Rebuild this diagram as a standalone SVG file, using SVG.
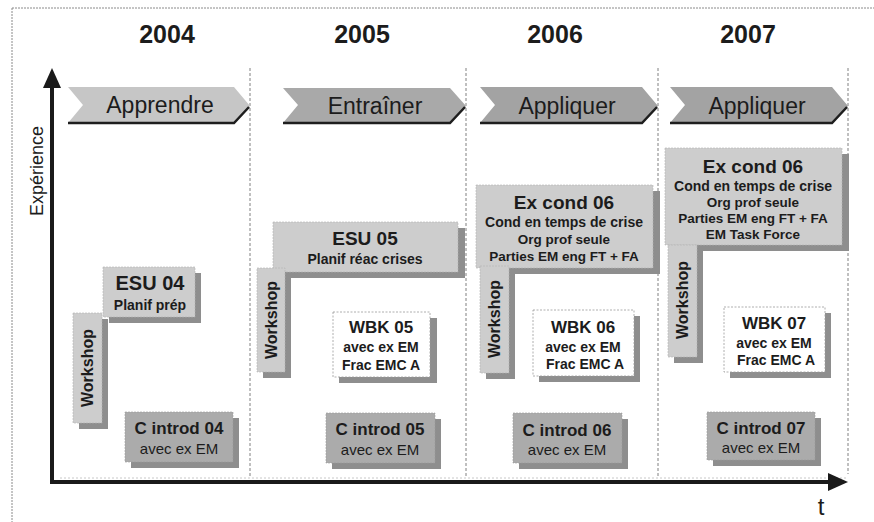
<svg xmlns="http://www.w3.org/2000/svg" width="874" height="522" viewBox="0 0 874 522">
<style>
text{font-family:"Liberation Sans",Arial,sans-serif;fill:#1c1c1c;text-anchor:middle}
.yr{font-size:25px;font-weight:bold}
.ph{font-size:23px}
.b{font-weight:bold}
.t19{font-size:19px;font-weight:bold}
.t17{font-size:17px;font-weight:bold}
.t14{font-size:14px;font-weight:bold}
.t13{font-size:13.5px;font-weight:bold}
.n15{font-size:15px}
.ws{font-size:16px;font-weight:bold}
.sh{fill:#8e8e8e}
.lt{fill:#cdcdcd;stroke:#b4b4b4;stroke-width:0.6;stroke-dasharray:2 1}
.dk{fill:#ababab;stroke:#9a9a9a;stroke-width:0.6;stroke-dasharray:2 1}
.wh{fill:#ffffff;stroke:#9a9a9a;stroke-width:0.8;stroke-dasharray:2 1.5}
.div{stroke:#808080;stroke-width:1;stroke-dasharray:3 2;fill:none}
.edge{stroke:#1e1e1e;stroke-width:2.5;fill:none}
.axis{stroke:#1a1a1a;stroke-width:4;fill:none}
</style>
<rect x="0" y="0" width="874" height="522" fill="#ffffff"/>
<path d="M12,8 H874 M12,8 V522" stroke="#8a8a8a" stroke-width="1" stroke-dasharray="2 1" fill="none"/>
<g id="dividers">
<line class="div" x1="250" y1="68" x2="250" y2="478"/>
<line class="div" x1="466" y1="68" x2="466" y2="478"/>
<line class="div" x1="658" y1="68" x2="658" y2="478"/>
<line class="div" x1="848" y1="68" x2="848" y2="474"/>
<line x1="60" y1="478" x2="848" y2="478" stroke="#c8c8c8" stroke-width="1" stroke-dasharray="2 2"/>
</g>
<g id="years">
<text class="yr" x="167" y="43">2004</text>
<text class="yr" x="362" y="43">2005</text>
<text class="yr" x="555" y="43">2006</text>
<text class="yr" x="748" y="43">2007</text>
</g>
<g id="phase-apprendre">
<polygon points="68,87 234,87 250,106 234,123 68,123 83,105" fill="#c6c6c6"/>
<polyline class="edge" points="68,123 234,123 249,107"/>
<text class="ph" x="160" y="113">Apprendre</text>
</g>
<g id="phase-entrainer">
<polygon points="283,88 450,88 466,106 450,123 283,123 298,105" fill="#a9a9a9"/>
<polyline class="edge" points="283,123 450,123 465,107"/>
<text class="ph" x="375" y="114">Entraîner</text>
</g>
<g id="phase-appliquer-2006">
<polygon points="480,87 642,87 658,106 642,123 480,123 495,105" fill="#a3a3a3"/>
<polyline class="edge" points="480,123 642,123 657,107"/>
<text class="ph" x="567" y="114">Appliquer</text>
</g>
<g id="phase-appliquer-2007">
<polygon points="670,87 832,87 848,106 832,123 670,123 685,105" fill="#a3a3a3"/>
<polyline class="edge" points="670,123 832,123 847,107"/>
<text class="ph" x="757" y="114">Appliquer</text>
</g>
<g id="connectors">
<line class="axis" x1="52" y1="482" x2="52" y2="86"/>
<polygon points="52,68 43,88 61,88" fill="#1a1a1a"/>
<line class="axis" x1="50" y1="482" x2="832" y2="482"/>
<polygon points="848,482 828,473 828,491" fill="#1a1a1a"/>
</g>
<text x="43" y="171" font-size="18" transform="rotate(-90 43 171)">Expérience</text>
<text x="821" y="515" font-size="24">t</text>
<!-- 2004 -->
<g id="esu04">
<rect class="sh" x="109" y="273" width="92" height="50"/>
<rect class="lt" x="103" y="267" width="92" height="50"/>
<text class="b" font-size="20" x="150" y="290">ESU 04</text>
<text class="t14" x="150" y="310">Planif prép</text>
</g>
<g id="workshop04">
<rect class="sh" x="79" y="319" width="29" height="110"/>
<rect class="lt" x="73" y="313" width="29" height="110"/>
<text class="ws" x="93" y="368" transform="rotate(-90 93 368)">Workshop</text>
</g>
<g id="cintrod04">
<rect class="sh" x="131" y="418" width="108" height="50"/>
<rect class="dk" x="125" y="412" width="108" height="50"/>
<text class="t17" x="179" y="434">C introd 04</text>
<text class="n15" x="179" y="454">avec ex EM</text>
</g>
<!-- 2005 -->
<g id="esu05">
<rect class="sh" x="279" y="228" width="186" height="50"/>
<rect class="lt" x="273" y="222" width="185" height="50"/>
<text class="t19" x="365" y="245">ESU 05</text>
<text class="t14" x="365" y="264">Planif réac crises</text>
</g>
<g id="workshop05">
<rect class="sh" x="263" y="274" width="28" height="104"/>
<rect class="lt" x="257" y="268" width="28" height="104"/>
<text class="ws" x="277" y="320" transform="rotate(-90 277 320)">Workshop</text>
</g>
<g id="wbk05">
<rect class="sh" x="339" y="318" width="98" height="65"/>
<rect class="wh" x="333" y="312" width="97" height="65"/>
<text class="t17" x="381" y="333">WBK 05</text>
<text class="t14" x="381" y="352">avec ex EM</text>
<text class="t14" x="381" y="370">Frac EMC A</text>
</g>
<g id="cintrod05">
<rect class="sh" x="332" y="419" width="109" height="50"/>
<rect class="dk" x="326" y="413" width="109" height="50"/>
<text class="t17" x="380" y="435">C introd 05</text>
<text class="n15" x="380" y="455">avec ex EM</text>
</g>
<!-- 2006 -->
<g id="excond06-2006">
<rect class="sh" x="482" y="191" width="178" height="83"/>
<rect class="lt" x="476" y="185" width="177" height="83"/>
<text class="t19" x="564" y="209">Ex cond 06</text>
<text class="t14" x="564" y="227">Cond en temps de crise</text>
<text class="t13" x="564" y="244">Org prof seule</text>
<text class="t13" x="564" y="261">Parties EM eng FT + FA</text>
</g>
<g id="workshop06">
<rect class="sh" x="486" y="272" width="29" height="107"/>
<rect class="lt" x="480" y="266" width="29" height="107"/>
<text class="ws" x="500" y="319" transform="rotate(-90 500 319)">Workshop</text>
</g>
<g id="wbk06">
<rect class="sh" x="539" y="316" width="101" height="66"/>
<rect class="wh" x="533" y="310" width="101" height="66"/>
<text class="t17" x="583" y="333">WBK 06</text>
<text class="t14" x="583" y="352">avec ex EM</text>
<text class="t14" x="585" y="369">Frac EMC A</text>
</g>
<g id="cintrod06">
<rect class="sh" x="519" y="419" width="109" height="50"/>
<rect class="dk" x="513" y="413" width="109" height="50"/>
<text class="t17" x="567" y="436">C introd 06</text>
<text class="n15" x="567" y="455">avec ex EM</text>
</g>
<!-- 2007 -->
<g id="excond06-2007">
<rect class="sh" x="671" y="154" width="178" height="97"/>
<rect class="lt" x="665" y="148" width="177" height="97"/>
<text class="t19" x="753" y="173">Ex cond 06</text>
<text class="t14" x="753" y="191">Cond en temps de crise</text>
<text class="t13" x="753" y="207">Org prof seule</text>
<text class="t13" x="753" y="223">Parties EM eng FT + FA</text>
<text class="t13" x="753" y="239">EM Task Force</text>
</g>
<g id="workshop07">
<rect class="sh" x="674" y="251" width="29" height="112"/>
<rect class="lt" x="668" y="245" width="29" height="112"/>
<text class="ws" x="688" y="300" transform="rotate(-90 688 300)">Workshop</text>
</g>
<g id="wbk07">
<rect class="sh" x="730" y="313" width="101" height="65"/>
<rect class="wh" x="724" y="307" width="101" height="65"/>
<text class="t17" x="774" y="329">WBK 07</text>
<text class="t14" x="774" y="348">avec ex EM</text>
<text class="t14" x="776" y="365">Frac EMC A</text>
</g>
<g id="cintrod07">
<rect class="sh" x="713" y="418" width="108" height="48"/>
<rect class="dk" x="707" y="412" width="108" height="48"/>
<text class="t17" x="761" y="434">C introd 07</text>
<text class="n15" x="761" y="453">avec ex EM</text>
</g>
</svg>
